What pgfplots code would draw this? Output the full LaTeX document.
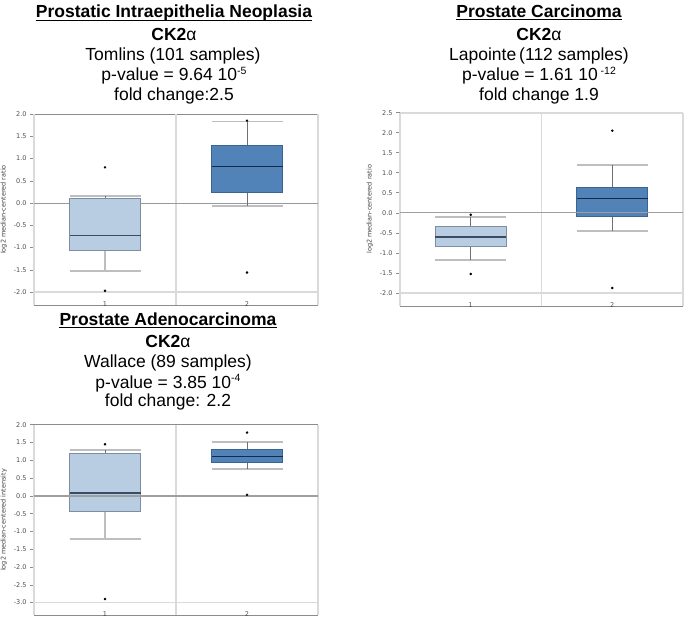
\documentclass[border=0pt]{standalone}
\usepackage{fontspec}
\setmainfont{Liberation Sans}
\newfontfamily\dv{DejaVu Sans}
\usepackage{pgfplots}
\pgfplotsset{compat=1.18}
\usepgfplotslibrary{statistics}

\definecolor{fillA}{HTML}{B8CDE2}
\definecolor{edgeA}{HTML}{7D8EA3}
\definecolor{medA}{HTML}{3A4C63}
\definecolor{fillB}{HTML}{5283B8}
\definecolor{edgeB}{HTML}{3A6593}
\definecolor{medB}{HTML}{152A45}
\definecolor{gridlight}{HTML}{DADADA}
\definecolor{capgray}{HTML}{BEBEBE}
\definecolor{stemgray}{HTML}{707070}
\definecolor{framegray}{HTML}{8C8C8C}

\pgfplotsset{
  boxplot/lower stem/.style={draw=stemgray, line width=0.7pt},
  boxplot/upper stem/.style={draw=stemgray, line width=0.7pt},
  boxplot/cap/.style={draw=capgray, line width=1.8pt},
  boxplot/draw/lower whisker/.code={
    \draw[/pgfplots/boxplot/cap]
      (boxplot whisker cs:\pgfplotsboxplotvalue{lower whisker},0) --
      (boxplot whisker cs:\pgfplotsboxplotvalue{lower whisker},1);
    \draw[/pgfplots/boxplot/lower stem]
      (boxplot box cs:\pgfplotsboxplotvalue{lower quartile},0.5) --
      (boxplot box cs:\pgfplotsboxplotvalue{lower whisker},0.5);
  },
  boxplot/draw/upper whisker/.code={
    \draw[/pgfplots/boxplot/cap]
      (boxplot whisker cs:\pgfplotsboxplotvalue{upper whisker},0) --
      (boxplot whisker cs:\pgfplotsboxplotvalue{upper whisker},1);
    \draw[/pgfplots/boxplot/upper stem]
      (boxplot box cs:\pgfplotsboxplotvalue{upper quartile},0.5) --
      (boxplot box cs:\pgfplotsboxplotvalue{upper whisker},0.5);
  },
  onco/.style={
    scale only axis,
    xmin=0.5, xmax=2.5,
    xtick={1,2}, xticklabels={1,2},
    xtick style={draw=none},
    xticklabel style={anchor=south, inner sep=1pt, yshift=1.5pt},
    ytick pos=left, tick align=outside,
    ytick style={draw=framegray, line width=0.5pt},
    major tick length=4pt,
    tick label style={font=\dv\fontsize{6.5}{7}\selectfont, text=black!70},
    label style={font=\dv\fontsize{6.5}{7}\selectfont, text=black!75},
    yticklabel style={/pgf/number format/.cd, fixed, fixed zerofill, precision=1,
      assume math mode=true},
    ylabel shift=-4pt,
    separate axis lines,
    x axis line style={draw=framegray, line width=0.7pt},
    y axis line style={draw=gridlight, line width=1.4pt},
    extra x ticks={1.5}, extra x tick labels={},
    extra x tick style={grid=major, major tick length=0pt,
      major grid style={draw=gridlight, line width=1.6pt}},
    extra y tick labels={},
    extra y tick style={grid=major, major tick length=0pt,
      major grid style={draw=gridlight, line width=1.6pt}},
    boxplot/draw direction=y,
    boxplot/box extend=0.5,
    boxplot/whisker extend=0.5,
    clip=false,
  },
  boxA/.style={mark=*, mark size=1pt, black,
    boxplot/every box/.style={draw=edgeA, fill=fillA, line width=0.8pt},
    boxplot/every median/.style={draw=medA, line width=1pt}},
  boxB/.style={mark=*, mark size=1pt, black,
    boxplot/every box/.style={draw=edgeB, fill=fillB, line width=0.8pt},
    boxplot/every median/.style={draw=medB, line width=1pt}},
}

\newcommand{\sups}[1]{\raisebox{6.5pt}{\fontsize{10.5}{10.5}\selectfont #1}}

\begin{document}
\begin{tikzpicture}
\useasboundingbox (0,0) rectangle (687pt,-619pt);

% Panel 1: Tomlins
\begin{axis}[onco, at={(34pt,-305pt)}, anchor=south west,
  width=284pt, height=191pt,
  ymin=-2.29, ymax=2.0, ytick={-2,-1.5,...,2},
  extra y ticks={-2},
  ylabel={log2 median-centered ratio}]
  \addplot[draw=gray!80, line width=0.7pt, mark=none, forget plot]
    coordinates {(0.5,0) (2.5,0)};
  \addplot[boxA, boxplot/lower stem/.style={draw=capgray, line width=1.6pt},
    boxplot prepared={draw position=1, lower whisker=-1.52, lower quartile=-1.07,
      median=-0.72, upper quartile=0.10, upper whisker=0.15}]
    table[row sep=\\, y index=0] {v\\ 0.80\\ -1.97\\};
  \addplot[boxB,
    boxplot prepared={draw position=2, lower whisker=-0.07, lower quartile=0.25,
      median=0.83, upper quartile=1.30, upper whisker=1.83}]
    table[row sep=\\, y index=0] {v\\ 1.85\\ -1.56\\};
\end{axis}

% Panel 2: Lapointe
\begin{axis}[onco, at={(400pt,-306pt)}, anchor=south west,
  width=283pt, height=193.3pt,
  ymin=-2.33, ymax=2.5, ytick={-2,-1.5,...,2.5},
  extra y ticks={-2,2.5},
  ylabel={log2 median-centered ratio}]
  \addplot[boxA, boxplot/every median/.style={draw=medA, line width=1.5pt},
    boxplot prepared={draw position=1, lower whisker=-1.19, lower quartile=-0.85,
      median=-0.60, upper quartile=-0.33, upper whisker=-0.10}]
    table[row sep=\\, y index=0] {v\\ -0.05\\ -1.53\\};
  \addplot[boxB,
    boxplot prepared={draw position=2, lower whisker=-0.46, lower quartile=-0.08,
      median=0.35, upper quartile=0.63, upper whisker=1.19}]
    table[row sep=\\, y index=0] {v\\ 2.05\\ -1.88\\};
  \addplot[draw=gray!75, line width=1.4pt, mark=none, forget plot]
    coordinates {(0.5,0) (2.5,0)};
\end{axis}

% Panel 3: Wallace
\begin{axis}[onco, at={(34pt,-615pt)}, anchor=south west,
  width=284pt, height=190.3pt,
  ymin=-3.35, ymax=2.0, ytick={-3,-2.5,...,2},
  extra y ticks={-3},
  ylabel={log2 median-centered intensity}]
  \addplot[boxA, boxplot/lower stem/.style={draw=capgray, line width=1.6pt},
    boxplot/every median/.style={draw=medA, line width=1.8pt},
    boxplot prepared={draw position=1, lower whisker=-1.21, lower quartile=-0.45,
      median=0.08, upper quartile=1.20, upper whisker=1.30}]
    table[row sep=\\, y index=0] {v\\ 1.45\\ -2.90\\};
  \addplot[boxB, boxplot/every median/.style={draw=medB, line width=1.5pt},
    boxplot prepared={draw position=2, lower whisker=0.75, lower quartile=0.95,
      median=1.10, upper quartile=1.30, upper whisker=1.52}]
    table[row sep=\\, y index=0] {v\\ 1.78\\ 0.03\\};
  \addplot[draw=gray!75, line width=1.4pt, mark=none, forget plot]
    coordinates {(0.5,0) (2.5,0)};
\end{axis}

% titles
\begin{scope}[every node/.style={anchor=base, inner sep=0pt,
    font=\fontsize{17.5}{20}\selectfont}]
  \node (t1) at (174pt,-17.7pt) {\bfseries Prostatic Intraepithelia Neoplasia};
  \node at (174pt,-40.5pt) {\textbf{CK2}α};
  \node at (173pt,-60.3pt) {Tomlins (101 samples)};
  \node at (174pt,-80.7pt) {p-value = 9.64 10\sups{-5}};
  \node at (174pt,-100.7pt) {fold change:2.5};

  \node (t2) at (539pt,-17.2pt) {\bfseries Prostate Carcinoma};
  \node at (539pt,-40.5pt) {\textbf{CK2}α};
  \node at (539pt,-60.7pt) {Lapointe\,(112 samples)};
  \node at (539pt,-80.7pt) {p-value = 1.61 10\,\sups{-12}};
  \node at (539pt,-100.7pt) {fold change 1.9};

  \node (t3) at (168pt,-325pt) {\bfseries Prostate Adenocarcinoma};
  \node at (168pt,-347.8pt) {\textbf{CK2}α};
  \node at (168pt,-367.6pt) {Wallace (89 samples)};
  \node at (168pt,-388pt) {p-value = 3.85 10\sups{-4}};
  \node at (168pt,-406.5pt) {fold change: 2.2};
\end{scope}
\foreach \t in {t1,t2,t3}
  \draw[line width=1.1pt] ([yshift=-2.6pt]\t.base west) -- ([yshift=-2.6pt]\t.base east);
\end{tikzpicture}
\end{document}
